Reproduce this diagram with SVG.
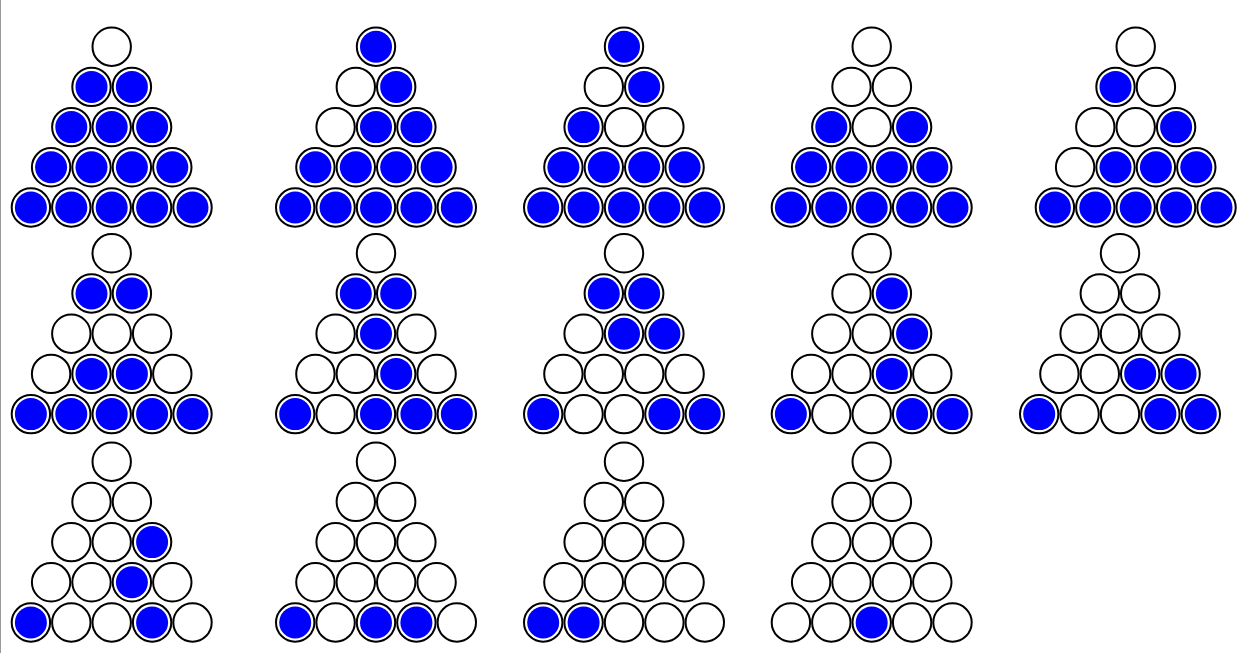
<svg xmlns="http://www.w3.org/2000/svg" xmlns:xlink="http://www.w3.org/1999/xlink" width="1244" height="653" viewBox="0 0 1244 653">
<style>
.ring{fill:#ffffff;stroke:#000000;stroke-width:2}
.peg{fill:#0000ff}
</style>
<defs>
<g id="e"><circle r="19.2" class="ring"/></g>
<g id="f"><circle r="19.2" class="ring"/><circle r="16" class="peg"/></g>
</defs>
<rect width="1244" height="653" fill="#ffffff"/>
<line x1="0.5" y1="0" x2="0.5" y2="653" stroke="#999999" stroke-width="1"/>
<g id="board1" transform="translate(111.7,46.7)">
<use href="#e" x="0" y="0"/>
<use href="#f" x="-20.2" y="40.2"/><use href="#f" x="20.2" y="40.2"/>
<use href="#f" x="-40.4" y="80.4"/><use href="#f" x="0" y="80.4"/><use href="#f" x="40.4" y="80.4"/>
<use href="#f" x="-60.6" y="120.6"/><use href="#f" x="-20.2" y="120.6"/><use href="#f" x="20.2" y="120.6"/><use href="#f" x="60.6" y="120.6"/>
<use href="#f" x="-80.8" y="160.8"/><use href="#f" x="-40.4" y="160.8"/><use href="#f" x="0" y="160.8"/><use href="#f" x="40.4" y="160.8"/><use href="#f" x="80.8" y="160.8"/>
</g>
<g id="board2" transform="translate(376,46.7)">
<use href="#f" x="0" y="0"/>
<use href="#e" x="-20.2" y="40.2"/><use href="#f" x="20.2" y="40.2"/>
<use href="#e" x="-40.4" y="80.4"/><use href="#f" x="0" y="80.4"/><use href="#f" x="40.4" y="80.4"/>
<use href="#f" x="-60.6" y="120.6"/><use href="#f" x="-20.2" y="120.6"/><use href="#f" x="20.2" y="120.6"/><use href="#f" x="60.6" y="120.6"/>
<use href="#f" x="-80.8" y="160.8"/><use href="#f" x="-40.4" y="160.8"/><use href="#f" x="0" y="160.8"/><use href="#f" x="40.4" y="160.8"/><use href="#f" x="80.8" y="160.8"/>
</g>
<g id="board3" transform="translate(624,46.7)">
<use href="#f" x="0" y="0"/>
<use href="#e" x="-20.2" y="40.2"/><use href="#f" x="20.2" y="40.2"/>
<use href="#f" x="-40.4" y="80.4"/><use href="#e" x="0" y="80.4"/><use href="#e" x="40.4" y="80.4"/>
<use href="#f" x="-60.6" y="120.6"/><use href="#f" x="-20.2" y="120.6"/><use href="#f" x="20.2" y="120.6"/><use href="#f" x="60.6" y="120.6"/>
<use href="#f" x="-80.8" y="160.8"/><use href="#f" x="-40.4" y="160.8"/><use href="#f" x="0" y="160.8"/><use href="#f" x="40.4" y="160.8"/><use href="#f" x="80.8" y="160.8"/>
</g>
<g id="board4" transform="translate(871.7,46.7)">
<use href="#e" x="0" y="0"/>
<use href="#e" x="-20.2" y="40.2"/><use href="#e" x="20.2" y="40.2"/>
<use href="#f" x="-40.4" y="80.4"/><use href="#e" x="0" y="80.4"/><use href="#f" x="40.4" y="80.4"/>
<use href="#f" x="-60.6" y="120.6"/><use href="#f" x="-20.2" y="120.6"/><use href="#f" x="20.2" y="120.6"/><use href="#f" x="60.6" y="120.6"/>
<use href="#f" x="-80.8" y="160.8"/><use href="#f" x="-40.4" y="160.8"/><use href="#f" x="0" y="160.8"/><use href="#f" x="40.4" y="160.8"/><use href="#f" x="80.8" y="160.8"/>
</g>
<g id="board5" transform="translate(1135.7,46.7)">
<use href="#e" x="0" y="0"/>
<use href="#f" x="-20.2" y="40.2"/><use href="#e" x="20.2" y="40.2"/>
<use href="#e" x="-40.4" y="80.4"/><use href="#e" x="0" y="80.4"/><use href="#f" x="40.4" y="80.4"/>
<use href="#e" x="-60.6" y="120.6"/><use href="#f" x="-20.2" y="120.6"/><use href="#f" x="20.2" y="120.6"/><use href="#f" x="60.6" y="120.6"/>
<use href="#f" x="-80.8" y="160.8"/><use href="#f" x="-40.4" y="160.8"/><use href="#f" x="0" y="160.8"/><use href="#f" x="40.4" y="160.8"/><use href="#f" x="80.8" y="160.8"/>
</g>
<g id="board6" transform="translate(111.7,253.3)">
<use href="#e" x="0" y="0"/>
<use href="#f" x="-20.2" y="40.2"/><use href="#f" x="20.2" y="40.2"/>
<use href="#e" x="-40.4" y="80.4"/><use href="#e" x="0" y="80.4"/><use href="#e" x="40.4" y="80.4"/>
<use href="#e" x="-60.6" y="120.6"/><use href="#f" x="-20.2" y="120.6"/><use href="#f" x="20.2" y="120.6"/><use href="#e" x="60.6" y="120.6"/>
<use href="#f" x="-80.8" y="160.8"/><use href="#f" x="-40.4" y="160.8"/><use href="#f" x="0" y="160.8"/><use href="#f" x="40.4" y="160.8"/><use href="#f" x="80.8" y="160.8"/>
</g>
<g id="board7" transform="translate(376,253.3)">
<use href="#e" x="0" y="0"/>
<use href="#f" x="-20.2" y="40.2"/><use href="#f" x="20.2" y="40.2"/>
<use href="#e" x="-40.4" y="80.4"/><use href="#f" x="0" y="80.4"/><use href="#e" x="40.4" y="80.4"/>
<use href="#e" x="-60.6" y="120.6"/><use href="#e" x="-20.2" y="120.6"/><use href="#f" x="20.2" y="120.6"/><use href="#e" x="60.6" y="120.6"/>
<use href="#f" x="-80.8" y="160.8"/><use href="#e" x="-40.4" y="160.8"/><use href="#f" x="0" y="160.8"/><use href="#f" x="40.4" y="160.8"/><use href="#f" x="80.8" y="160.8"/>
</g>
<g id="board8" transform="translate(624,253.3)">
<use href="#e" x="0" y="0"/>
<use href="#f" x="-20.2" y="40.2"/><use href="#f" x="20.2" y="40.2"/>
<use href="#e" x="-40.4" y="80.4"/><use href="#f" x="0" y="80.4"/><use href="#f" x="40.4" y="80.4"/>
<use href="#e" x="-60.6" y="120.6"/><use href="#e" x="-20.2" y="120.6"/><use href="#e" x="20.2" y="120.6"/><use href="#e" x="60.6" y="120.6"/>
<use href="#f" x="-80.8" y="160.8"/><use href="#e" x="-40.4" y="160.8"/><use href="#e" x="0" y="160.8"/><use href="#f" x="40.4" y="160.8"/><use href="#f" x="80.8" y="160.8"/>
</g>
<g id="board9" transform="translate(871.7,253.3)">
<use href="#e" x="0" y="0"/>
<use href="#e" x="-20.2" y="40.2"/><use href="#f" x="20.2" y="40.2"/>
<use href="#e" x="-40.4" y="80.4"/><use href="#e" x="0" y="80.4"/><use href="#f" x="40.4" y="80.4"/>
<use href="#e" x="-60.6" y="120.6"/><use href="#e" x="-20.2" y="120.6"/><use href="#f" x="20.2" y="120.6"/><use href="#e" x="60.6" y="120.6"/>
<use href="#f" x="-80.8" y="160.8"/><use href="#e" x="-40.4" y="160.8"/><use href="#e" x="0" y="160.8"/><use href="#f" x="40.4" y="160.8"/><use href="#f" x="80.8" y="160.8"/>
</g>
<g id="board10" transform="translate(1120,253.3)">
<use href="#e" x="0" y="0"/>
<use href="#e" x="-20.2" y="40.2"/><use href="#e" x="20.2" y="40.2"/>
<use href="#e" x="-40.4" y="80.4"/><use href="#e" x="0" y="80.4"/><use href="#e" x="40.4" y="80.4"/>
<use href="#e" x="-60.6" y="120.6"/><use href="#e" x="-20.2" y="120.6"/><use href="#f" x="20.2" y="120.6"/><use href="#f" x="60.6" y="120.6"/>
<use href="#f" x="-80.8" y="160.8"/><use href="#e" x="-40.4" y="160.8"/><use href="#e" x="0" y="160.8"/><use href="#f" x="40.4" y="160.8"/><use href="#f" x="80.8" y="160.8"/>
</g>
<g id="board11" transform="translate(111.7,461.7)">
<use href="#e" x="0" y="0"/>
<use href="#e" x="-20.2" y="40.2"/><use href="#e" x="20.2" y="40.2"/>
<use href="#e" x="-40.4" y="80.4"/><use href="#e" x="0" y="80.4"/><use href="#f" x="40.4" y="80.4"/>
<use href="#e" x="-60.6" y="120.6"/><use href="#e" x="-20.2" y="120.6"/><use href="#f" x="20.2" y="120.6"/><use href="#e" x="60.6" y="120.6"/>
<use href="#f" x="-80.8" y="160.8"/><use href="#e" x="-40.4" y="160.8"/><use href="#e" x="0" y="160.8"/><use href="#f" x="40.4" y="160.8"/><use href="#e" x="80.8" y="160.8"/>
</g>
<g id="board12" transform="translate(376,461.7)">
<use href="#e" x="0" y="0"/>
<use href="#e" x="-20.2" y="40.2"/><use href="#e" x="20.2" y="40.2"/>
<use href="#e" x="-40.4" y="80.4"/><use href="#e" x="0" y="80.4"/><use href="#e" x="40.4" y="80.4"/>
<use href="#e" x="-60.6" y="120.6"/><use href="#e" x="-20.2" y="120.6"/><use href="#e" x="20.2" y="120.6"/><use href="#e" x="60.6" y="120.6"/>
<use href="#f" x="-80.8" y="160.8"/><use href="#e" x="-40.4" y="160.8"/><use href="#f" x="0" y="160.8"/><use href="#f" x="40.4" y="160.8"/><use href="#e" x="80.8" y="160.8"/>
</g>
<g id="board13" transform="translate(624,461.7)">
<use href="#e" x="0" y="0"/>
<use href="#e" x="-20.2" y="40.2"/><use href="#e" x="20.2" y="40.2"/>
<use href="#e" x="-40.4" y="80.4"/><use href="#e" x="0" y="80.4"/><use href="#e" x="40.4" y="80.4"/>
<use href="#e" x="-60.6" y="120.6"/><use href="#e" x="-20.2" y="120.6"/><use href="#e" x="20.2" y="120.6"/><use href="#e" x="60.6" y="120.6"/>
<use href="#f" x="-80.8" y="160.8"/><use href="#f" x="-40.4" y="160.8"/><use href="#e" x="0" y="160.8"/><use href="#e" x="40.4" y="160.8"/><use href="#e" x="80.8" y="160.8"/>
</g>
<g id="board14" transform="translate(871.7,461.7)">
<use href="#e" x="0" y="0"/>
<use href="#e" x="-20.2" y="40.2"/><use href="#e" x="20.2" y="40.2"/>
<use href="#e" x="-40.4" y="80.4"/><use href="#e" x="0" y="80.4"/><use href="#e" x="40.4" y="80.4"/>
<use href="#e" x="-60.6" y="120.6"/><use href="#e" x="-20.2" y="120.6"/><use href="#e" x="20.2" y="120.6"/><use href="#e" x="60.6" y="120.6"/>
<use href="#e" x="-80.8" y="160.8"/><use href="#e" x="-40.4" y="160.8"/><use href="#f" x="0" y="160.8"/><use href="#e" x="40.4" y="160.8"/><use href="#e" x="80.8" y="160.8"/>
</g>
</svg>
